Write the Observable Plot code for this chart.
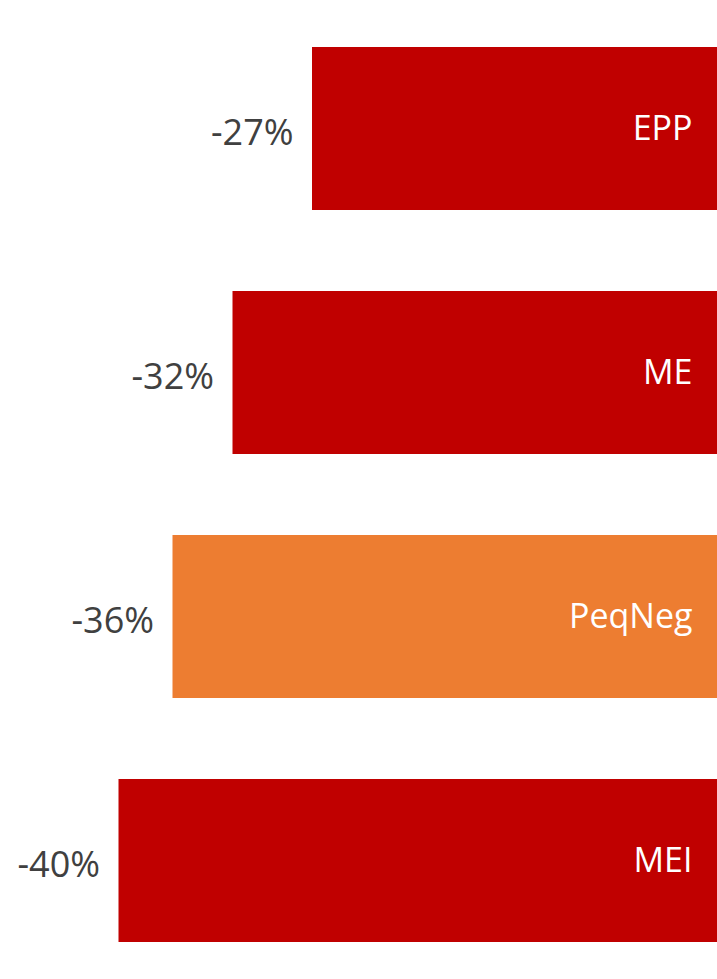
<!DOCTYPE html>
<html>
<head>
<meta charset="utf-8">
<script src="https://cdn.jsdelivr.net/npm/d3@7"></script>
<script src="https://cdn.jsdelivr.net/npm/@observablehq/plot@0.6"></script>
<style>
  html, body { margin: 0; padding: 0; background: #fff; }
  svg { display: block; }
</style>
</head>
<body>
<div id="chart"></div>
<script>
const categories = ["EPP", "ME", "PeqNeg", "MEI"];
const values = [-27.0, -32.3, -36.3, -39.9];
const highlight = "PeqNeg";

const data = categories.map((c, i) => ({cat: c, value: values[i]}));

const chart = Plot.plot({
  width: 717,
  height: 979,
  marginTop: 47,
  marginBottom: 37,
  marginLeft: 0,
  marginRight: 0,
  style: {fontFamily: "'Open Sans', sans-serif", background: "#fff"},
  x: {domain: [-47.8, 0], axis: null},
  y: {domain: categories, paddingInner: 0.332, paddingOuter: 0, axis: null},
  marks: [
    Plot.barX(data, {
      x: "value",
      y: "cat",
      fill: d => d.cat === highlight ? "#ED7D31" : "#C00000"
    }),
    Plot.text(data, {
      x: "value",
      y: "cat",
      text: d => Math.round(d.value) + "%",
      textAnchor: "end",
      dx: -19,
      dy: 4,
      fontSize: 36,
      fill: "#404040"
    }),
    Plot.text(data, {
      x: () => 0,
      y: "cat",
      text: "cat",
      textAnchor: "end",
      dx: -25,
      fontSize: 34,
      fill: "#ffffff"
    })
  ]
});
document.getElementById("chart").appendChild(chart);
</script>
</body>
</html>
